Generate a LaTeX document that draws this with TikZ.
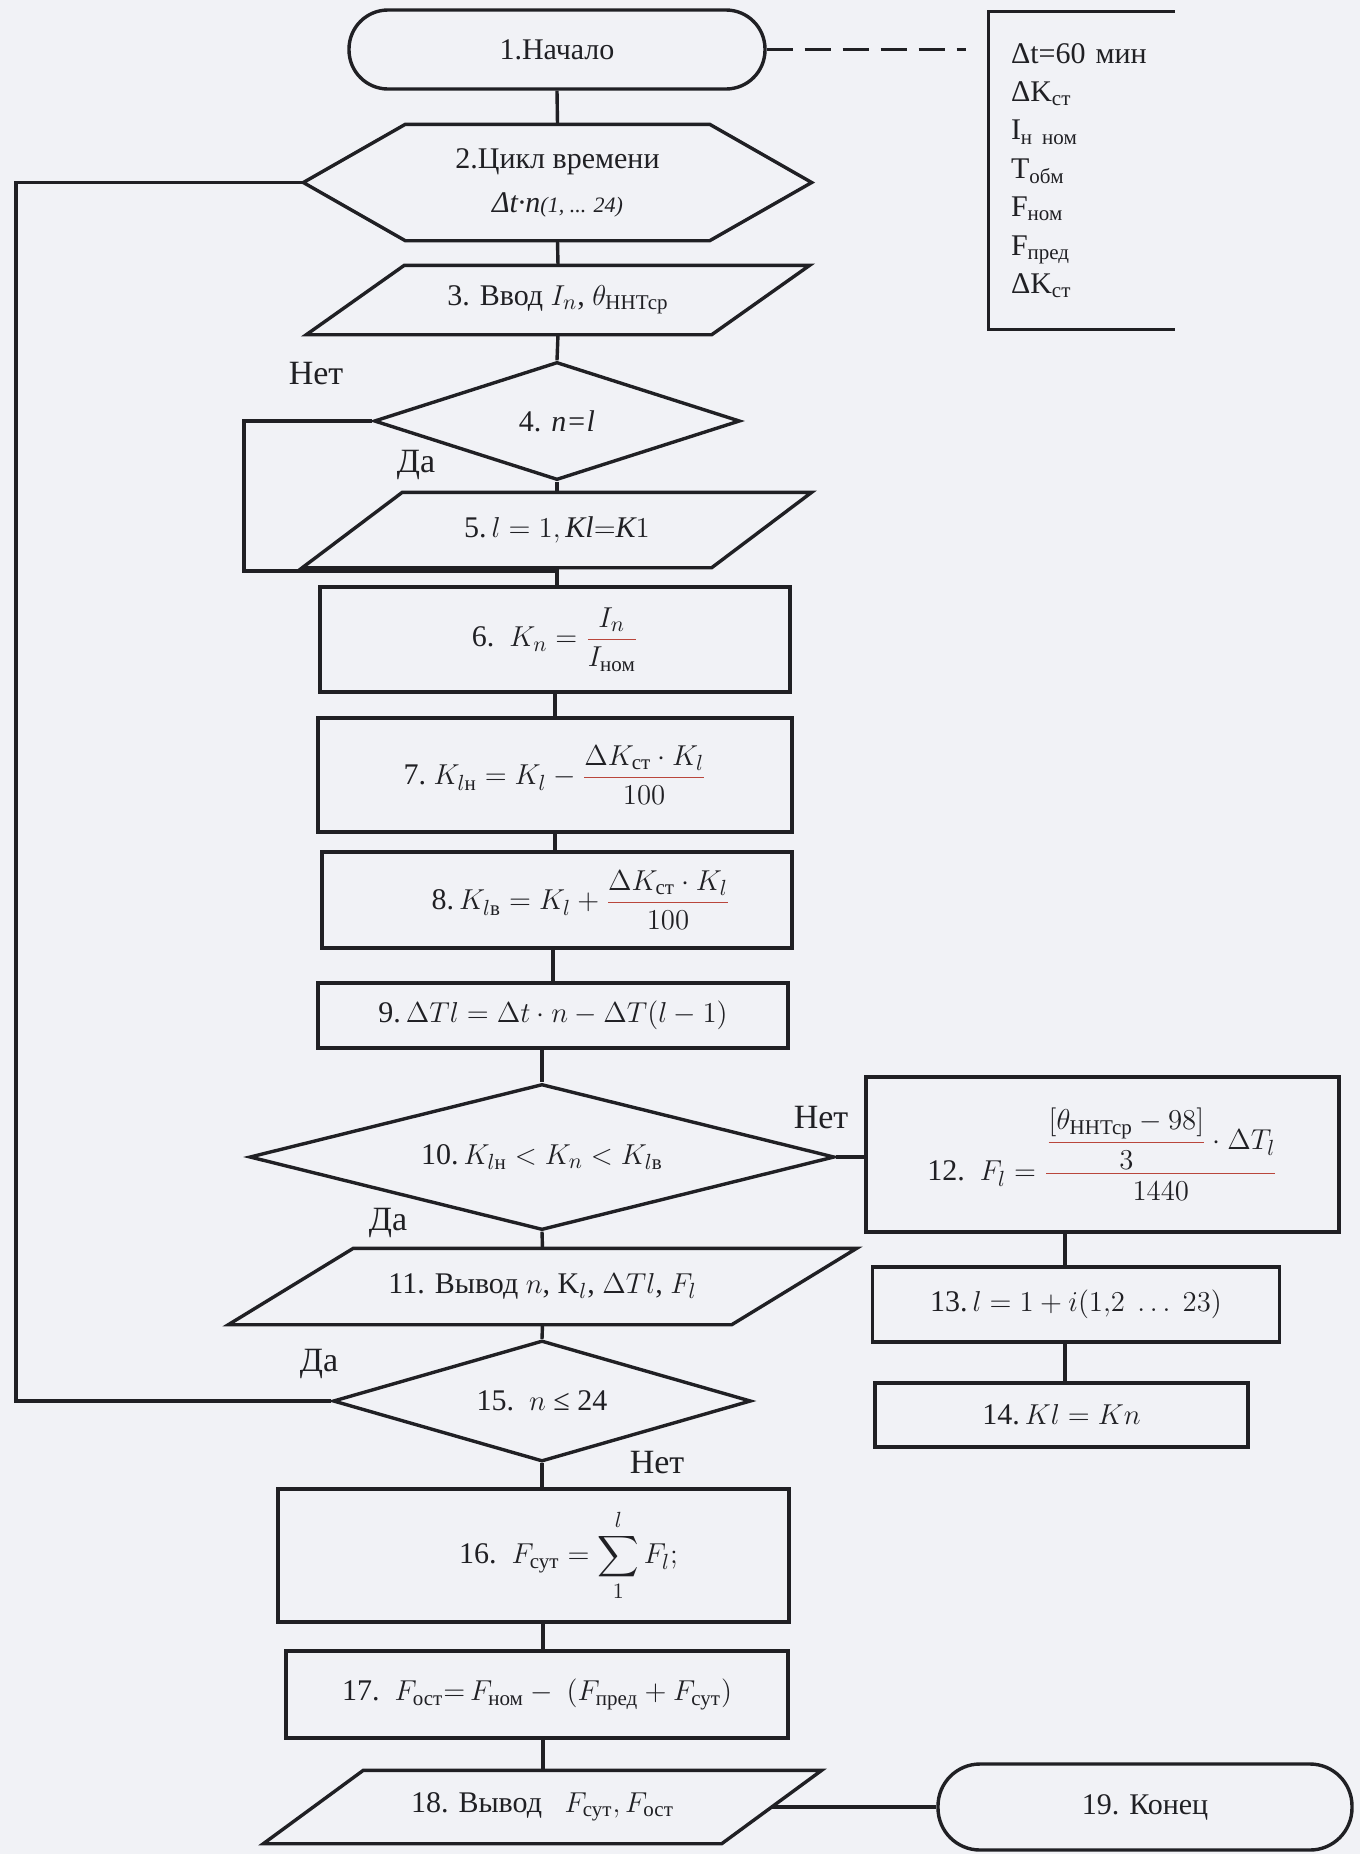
\documentclass[tikz,border=0pt]{standalone}
\usepackage{amsmath}
\usepackage{fontspec}
\setmainfont{Liberation Serif}
\usetikzlibrary{shapes.geometric,calc}
\definecolor{paper}{RGB}{241,242,246}
\definecolor{ink}{RGB}{32,32,36}
\definecolor{barc}{RGB}{185,70,60}
\newcommand{\cy}[1]{\text{\upshape #1}}
\newcommand{\rfrac}[2]{{\color{barc}\dfrac{\color{ink}#1}{\color{ink}#2}}}
\newcommand{\drawpara}[2]{\draw ([xshift=#2]#1.north west) -- (#1.north east) -- ([xshift=-#2]#1.south east) -- (#1.south west) -- cycle;}
\begin{document}
\begin{tikzpicture}[x=0.5pt,y=-0.5pt,color=ink,line width=1.7pt,
  every node/.style={font=\fontsize{15}{19}\selectfont, inner sep=0pt},
  box/.style={draw, rectangle},
  term/.style={draw, rectangle, rounded corners=#1},
  dia/.style={draw, diamond, aspect=#1},
  ghost/.style={rectangle},
  lab/.style={font=\fontsize{17}{19}\selectfont},
  dashline/.style={dash pattern=on 13pt off 6pt}]
\fill[paper] (0,0) rectangle (1360,1854);
\useasboundingbox (0,0) rectangle (1360,1854);

% nodes
\node[term=19.5pt, minimum width=208pt, minimum height=39.5pt] (n1) at (557,49.5) {1.Начало};
\node[ghost, minimum height=157.5pt, inner xsep=10.5pt, text width=70.5pt, align=left,
      font=\fontsize{15}{19.2}\selectfont] (leg) at (1081.5,170.5)
  {Δt=60 мин\\ ΔK\textsubscript{ст}\\ I\textsubscript{н ном}\\ T\textsubscript{обм}\\ F\textsubscript{ном}\\ F\textsubscript{пред}\\ ΔK\textsubscript{ст}};
\node[ghost, minimum width=252.5pt, minimum height=56.5pt, align=center, font=\fontsize{15}{22}\selectfont] (n2) at (557.5,182.5)
  {2.Цикл времени\\ {\itshape Δt·n\fontsize{11}{13}\selectfont(1, ... 24)}};
\node[ghost, minimum width=250pt, minimum height=33pt] (n3) at (558,300)
  {3. Ввод $I_n$, $\theta_{\cy{ННТср}}$};
\node[dia=3.1, minimum width=183pt, minimum height=59pt] (n4) at (557,421) {4. \textit{n=l}};
\node[ghost, minimum width=253pt, minimum height=36pt] (n5) at (557,530)
  {5.\,$l = 1, \mathit{Kl}{=}\mathit{K}1$};
\node[box, minimum width=235pt, minimum height=52.5pt] (n6) at (555,639.5)
  {6.\ \ $K_n = \rfrac{I_n}{I_{\cy{ном}}}$};
\node[box, minimum width=237pt, minimum height=57pt] (n7) at (555,775)
  {7.\ $K_{l\cy{н}} = K_l - \rfrac{\Delta K_{\cy{ст}}\cdot K_l}{100}$};
\node[box, minimum width=235pt, minimum height=48pt] (n8) at (557,900)
  {\hspace*{24pt}8.\,$K_{l\cy{в}} = K_l + \rfrac{\Delta K_{\cy{ст}}\cdot K_l}{100}$};
\node[box, minimum width=235pt, minimum height=32.5pt] (n9) at (553,1015.5)
  {9.\,$\Delta Tl = \Delta t\cdot n - \Delta T(l-1)$};
\node[dia=4, minimum width=292.5pt, minimum height=73pt] (n10) at (542,1157)
  {10.\,$K_{l\cy{н}} < K_n < K_{l\cy{в}}$};
\node[box, minimum width=236.5pt, minimum height=77.5pt] (n12) at (1102.5,1154.5)
  {12.\ \ $F_l = \rfrac{\rfrac{\left[\theta_{\cy{ННТср}} - 98\right]}{3}\cdot\Delta T_l}{1440}$};
\node[box, minimum width=203.5pt, minimum height=37.5pt] (n13) at (1076,1304.5)
  {13.\,$l = 1 + i(1{,}2\ \ldots\ 23)$};
\node[box, minimum width=186.5pt, minimum height=32pt] (n14) at (1061.5,1415)
  {14.\,$Kl = Kn$};
\node[ghost, minimum width=312.5pt, minimum height=36.5pt] (n11) at (542.5,1286.5)
  {11. Вывод $n$, K$_l$, $\Delta Tl$, $F_l$};
\node[dia=3.45, minimum width=209pt, minimum height=60.5pt] (n15) at (542,1401)
  {15.\ \ $n$ ≤ 24};
\node[box, minimum width=255.5pt, minimum height=66.5pt] (n16) at (533.5,1555.5)
  {\hspace*{35pt}16.\ \ $F_{\cy{сут}} = \displaystyle\sum_{1}^{l} F_l;$};
\node[box, minimum width=251pt, minimum height=43.5pt] (n17) at (537,1694.5)
  {17.\ \ $F_{\cy{ост}}{=}\,F_{\cy{ном}} -\ (F_{\cy{пред}} + F_{\cy{сут}})$};
\node[ghost, minimum width=277.5pt, minimum height=35pt] (n18) at (542.5,1807)
  {18. Вывод\ \ \ $F_{\cy{сут}}, F_{\cy{ост}}$};
\node[term=21pt, minimum width=207pt, minimum height=43pt] (n19) at (1145,1807) {19. Конец};

% outlines of drawn shapes
\draw (leg.north east) -- (leg.north west) -- (leg.south west) -- (leg.south east);
\draw (n2.west) -- ([xshift=51pt]n2.north west) -- ([xshift=-51pt]n2.north east) -- (n2.east)
      -- ([xshift=-51pt]n2.south east) -- ([xshift=51pt]n2.south west) -- cycle;
\drawpara{n3}{49pt}
\drawpara{n5}{50pt}
\drawpara{n11}{62.5pt}
\drawpara{n18}{50pt}

% labels
\node[lab] (tNo4) at (316,374) {Нет};
\node[lab] (tYes4) at (416,465) {Да};
\node[lab] (tNo10) at (821,1118) {Нет};
\node[lab] (tYes10) at (388,1223) {Да};
\node[lab] (tYes15) at (319,1364) {Да};
\node[lab] (tNo15) at (657,1463) {Нет};

% connectors
\coordinate (lx) at (244,571);
\coordinate (j1) at (557,571);
\coordinate (lp) at (16,0);
\coordinate (rx) at (1065,0);
\coordinate (ax) at (543,0);
\draw[dashline] (n1.east) -- ([xshift=-11pt]n1.east -| leg.west);
\draw (n1.south) -- (n2.north);
\draw (n2.south) -- (n3.north);
\draw (n3.south) -- (n4.north);
\draw (n4.south) -- (n5.north);
\draw (n5.south) -- (n5.south |- n6.north);
\draw (n4.west) -| (lx) -- (j1);
\draw (n6.south) -- (n6.south |- n7.north);
\draw (n7.south) -- (n7.south |- n8.north);
\draw (n8.south -| n9.north) -- (n9.north);
\draw (n9.south -| n10.north) -- (n10.north);
\draw (n10.east) -- (n10.east -| n12.west);
\draw (n12.south -| rx) -- (n13.north -| rx);
\draw (n13.south -| rx) -- (n14.north -| rx);
\draw (n10.south) -- (n11.north);
\draw (n11.south) -- (n15.north);
\draw (n15.west) -- (n15.west -| lp) -- (n2.west -| lp) -- (n2.west);
\draw (n15.south) -- (n15.south |- n16.north);
\draw (n16.south -| ax) -- (n17.north -| ax);
\draw (n17.south -| ax) -- (n18.north -| ax);
\draw ([xshift=-25pt]n18.east) -- (n19.west);
\end{tikzpicture}
\end{document}
